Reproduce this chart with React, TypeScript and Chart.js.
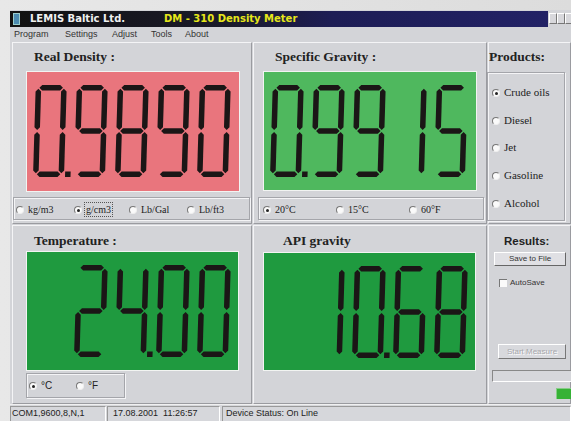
import React, { useEffect, useRef } from "react";
import { Chart, registerables } from "chart.js";
Chart.register(...registerables);

// ---- data ----
const readingTitles = ["Real Density :", "Specific Gravity :", "Temperature :", "API gravity"];
const readingValues = [0.989, 0.9915, 24.0, 10.68];
const readingDecimals = [4, 4, 2, 2];
const densityUnits = ["kg/m3", "g/cm3", "Lb/Gal", "Lb/ft3"];
const gravityRefs = ["20°C", "15°C", "60°F"];
const productList = ["Crude oils", "Diesel", "Jet", "Gasoline", "Alcohol"];
const tempUnits = ["°C", "°F"];
const menuItems = ["Program", "Settings", "Adjust", "Tools", "About"];
const statusItems = ["COM1,9600,8,N,1", "17.08.2001  11:26:57", "Device Status: On Line"];
const appName = "LEMIS Baltic Ltd.";
const appTitle = "DM - 310 Density Meter";

// ---- layout / style ----
const displayBoxes = [
  { left: 27, top: 72, width: 212, height: 119, bg: "#e9757d" },
  { left: 264, top: 72, width: 212, height: 118, bg: "#4fb85e" },
  { left: 27, top: 252, width: 211, height: 118, bg: "#1f9a3f" },
  { left: 264, top: 253, width: 211, height: 117, bg: "#1f9a3f" },
];
const titlePos = [
  { left: 34, top: 48 },
  { left: 275, top: 48 },
  { left: 34, top: 232 },
  { left: 283, top: 232 },
];
const menuX = [14, 65, 112, 151, 185];
const densityUnitX = [20, 78, 133, 191];
const gravityRefX = [267, 340, 413];
const productY = [93, 121, 148, 176, 204];
const tempUnitX = [33, 80];
const statusX = [12, 113, 226];

const SEGS: Record<string, string> = {
  "0": "abcdef",
  "1": "bc",
  "2": "abged",
  "3": "abgcd",
  "4": "fgbc",
  "5": "afgcd",
  "6": "afgedc",
  "7": "abc",
  "8": "abcdefg",
  "9": "abcdfg",
};

const sevenSegPlugin = {
  id: "sevenSeg",
  beforeDraw(chart: any, _a: any, opts: any) {
    const { ctx, chartArea } = chart;
    ctx.save();
    ctx.fillStyle = opts.bg;
    ctx.fillRect(chartArea.left, chartArea.top, chartArea.right - chartArea.left, chartArea.bottom - chartArea.top);
    ctx.restore();
  },
  afterDatasetsDraw(chart: any, _a: any, opts: any) {
    const { ctx } = chart;
    const xs = chart.scales.x;
    const ys = chart.scales.y;
    const text: string = Number(opts.value).toFixed(opts.decimals);
    const digits: { ch: string; dot: boolean }[] = [];
    for (const c of text) {
      if (c === ".") {
        if (digits.length) digits[digits.length - 1].dot = true;
      } else digits.push({ ch: c, dot: false });
    }
    const offset = opts.slots - digits.length;
    const t = opts.thick;
    const g = 1;
    const skew = opts.skew;
    ctx.save();
    ctx.fillStyle = opts.fg;
    digits.forEach((d, i) => {
      const k = i + offset;
      const x0 = xs.getPixelForValue(k);
      const x1 = xs.getPixelForValue(k + opts.digitWidth);
      const yT = ys.getPixelForValue(opts.top);
      const yB = ys.getPixelForValue(opts.bottom);
      const sk = (x: number, y: number): [number, number] => [x + skew * (yB - y), y];
      const poly = (pts: [number, number][]) => {
        ctx.beginPath();
        pts.forEach((p, j) => {
          const q = sk(p[0], p[1]);
          if (j === 0) ctx.moveTo(q[0], q[1]);
          else ctx.lineTo(q[0], q[1]);
        });
        ctx.closePath();
        ctx.fill();
      };
      const h = t / 2;
      const horiz = (xa: number, xb: number, y: number) =>
        poly([
          [xa + g, y],
          [xa + g + h, y - h],
          [xb - g - h, y - h],
          [xb - g, y],
          [xb - g - h, y + h],
          [xa + g + h, y + h],
        ]);
      const vert = (x: number, ya: number, yb: number) =>
        poly([
          [x, ya + g],
          [x + h, ya + g + h],
          [x + h, yb - g - h],
          [x, yb - g],
          [x - h, yb - g - h],
          [x - h, ya + g + h],
        ]);
      const lx = x0 + h;
      const rx = x1 - h;
      const ty = yT + h;
      const by = yB - h;
      const my = (yT + yB) / 2;
      const segs = SEGS[d.ch] || "";
      if (segs.includes("a")) horiz(lx, rx, ty);
      if (segs.includes("b")) vert(rx, ty, my);
      if (segs.includes("c")) vert(rx, my, by);
      if (segs.includes("d")) horiz(lx, rx, by);
      if (segs.includes("e")) vert(lx, my, by);
      if (segs.includes("f")) vert(lx, ty, my);
      if (segs.includes("g")) horiz(lx, rx, my);
      if (d.dot) {
        const dx = x1 + 1;
        poly([
          [dx, yB - t],
          [dx + t, yB - t],
          [dx + t, yB],
          [dx, yB],
        ]);
      }
    });
    ctx.restore();
  },
};

function Display({ index }: { index: number }) {
  const ref = useRef<HTMLCanvasElement | null>(null);
  const box = displayBoxes[index];
  useEffect(() => {
    if (!ref.current) return;
    const pitch = 41;
    const chart = new Chart(ref.current, {
      type: "scatter",
      data: { datasets: [{ label: readingTitles[index], data: [] }] },
      options: {
        animation: false,
        responsive: false,
        maintainAspectRatio: false,
        layout: { padding: 0 },
        events: [],
        plugins: {
          legend: { display: false },
          tooltip: { enabled: false },
          // @ts-ignore
          sevenSeg: {
            value: readingValues[index],
            decimals: readingDecimals[index],
            slots: 5,
            digitWidth: 31 / pitch,
            top: 1 - 13 / box.height,
            bottom: 1 - 105 / box.height,
            thick: 5.5,
            skew: 0.03,
            bg: box.bg,
            fg: "#1b1616",
          },
        },
        scales: {
          x: { type: "linear", display: false, min: -6 / pitch, max: (box.width - 6) / pitch },
          y: { type: "linear", display: false, min: 0, max: 1 },
        },
      },
      plugins: [sevenSegPlugin as any],
    });
    return () => chart.destroy();
  }, [index]);
  return (
    <div
      style={{
        position: "absolute",
        left: box.left - 1,
        top: box.top - 1,
        width: box.width,
        height: box.height,
        border: "1px solid #f2f4f2",
      }}
    >
      <canvas ref={ref} width={box.width} height={box.height} style={{ display: "block" }} />
    </div>
  );
}

const abs = (l: number, t: number, w?: number, h?: number): React.CSSProperties => ({
  position: "absolute",
  left: l,
  top: t,
  width: w,
  height: h,
  boxSizing: "border-box",
});

function Panel({ l, t, r, b }: { l: number; t: number; r: number; b: number }) {
  return (
    <div
      style={{
        ...abs(l, t, r - l, b - t),
        borderTop: "1px solid #f4f4f6",
        borderLeft: "1px solid #f4f4f6",
        borderRight: "1px solid #9a9ba0",
        borderBottom: "1px solid #9a9ba0",
        background: "#d3d4d8",
      }}
    />
  );
}

function Group({ l, t, r, b }: { l: number; t: number; r: number; b: number }) {
  return (
    <div
      style={{
        ...abs(l, t, r - l, b - t),
        border: "1px solid #a4a5aa",
        boxShadow: "inset 1px 1px 0 #f4f4f6, 1px 1px 0 #f4f4f6",
      }}
    />
  );
}

function Radio({ x, y, on, label, font, focus }: any) {
  return (
    <>
      <div
        style={{
          ...abs(x - 4, y - 4, 8, 8),
          borderRadius: "50%",
          background: "#fafafa",
          borderTop: "1px solid #777",
          borderLeft: "1px solid #777",
          borderRight: "1px solid #eee",
          borderBottom: "1px solid #eee",
        }}
      >
        {on ? <div style={{ ...abs(1.5, 1.5, 3, 3), borderRadius: "50%", background: "#222" }} /> : null}
      </div>
      <div
        style={{
          ...abs(x + 7, y - 7),
          font,
          color: "#222",
          whiteSpace: "nowrap",
          lineHeight: "13px",
          padding: "0 1px",
          outline: focus ? "1px dotted #555" : undefined,
        }}
      >
        {label}
      </div>
    </>
  );
}

export default function App() {
  const serif = '10px "Liberation Serif", serif';
  const titleFont = 'bold 13.5px "Liberation Serif", serif';
  return (
    <div
      style={{
        position: "fixed",
        left: 0,
        top: 0,
        width: 571,
        height: 421,
        overflow: "hidden",
        background: "linear-gradient(to right, #e8e8e8, #dcdcdc)",
      }}
    >
      {/* window */}
      <div style={{ ...abs(10, 10, 561, 411), background: "#d3d4d8" }} />
      {/* title bar */}
      <div
        style={{
          ...abs(10, 11, 538, 16),
          background: "linear-gradient(to right, #111111 0%, #1a1a2a 40%, #1d1d55 60%, #222266 100%)",
        }}
      />
      <div style={{ ...abs(13, 13, 7, 12), background: "#4a8ab0", border: "1px solid #9cc" }} />
      <div
        style={{
          ...abs(30, 12),
          font: 'bold 10px "DejaVu Sans", sans-serif',
          color: "#f0f0f0",
          lineHeight: "14px",
          whiteSpace: "nowrap",
        }}
      >
        {appName}
      </div>
      <div
        style={{
          ...abs(164, 12),
          font: 'bold 10px "DejaVu Sans", sans-serif',
          color: "#e6e61a",
          lineHeight: "14px",
          whiteSpace: "nowrap",
        }}
      >
        {appTitle}
      </div>
      {[549, 557, 565].map((x, i) => (
        <div
          key={i}
          style={{
            ...abs(x, 13, 8, 11),
            background: "#d8d8dc",
            borderTop: "1px solid #fff",
            borderLeft: "1px solid #fff",
            borderRight: "1px solid #777",
            borderBottom: "1px solid #777",
          }}
        />
      ))}
      {/* menu */}
      {menuItems.map((m, i) => (
        <div
          key={m}
          style={{
            ...abs(menuX[i], 28),
            font: '9px "Liberation Sans", sans-serif',
            color: "#333",
            lineHeight: "12px",
            whiteSpace: "nowrap",
          }}
        >
          {m}
        </div>
      ))}

      {/* panels */}
      <Panel l={12} t={42} r={252} b={224} />
      <Panel l={253} t={42} r={487} b={224} />
      <Panel l={488} t={42} r={571} b={224} />
      <Panel l={12} t={225} r={252} b={404} />
      <Panel l={253} t={225} r={487} b={404} />
      <Panel l={488} t={225} r={571} b={404} />

      {/* titles */}
      {readingTitles.map((tt, i) => (
        <div
          key={tt}
          style={{
            ...abs(titlePos[i].left, titlePos[i].top),
            font: titleFont,
            color: "#222",
            lineHeight: "18px",
            whiteSpace: "nowrap",
          }}
        >
          {tt}
        </div>
      ))}
      <div style={{ ...abs(489, 48), font: titleFont, color: "#222", lineHeight: "18px", whiteSpace: "nowrap" }}>
        Products:
      </div>

      {/* displays */}
      {readingTitles.map((_, i) => (
        <Display key={i} index={i} />
      ))}

      {/* density units */}
      <Group l={13} t={197} r={250} b={220} />
      {densityUnits.map((u, i) => (
        <Radio key={u} x={densityUnitX[i]} y={210} on={i === 1} focus={i === 1} label={u} font={serif} />
      ))}
      {/* gravity references */}
      <Group l={258} t={197} r={484} b={220} />
      {gravityRefs.map((u, i) => (
        <Radio key={u} x={gravityRefX[i]} y={210} on={i === 0} label={u} font={serif} />
      ))}
      {/* products */}
      <Group l={487} t={72} r={565} b={221} />
      {productList.map((p, i) => (
        <Radio key={p} x={496} y={productY[i]} on={i === 0} label={p} font={'11px "Liberation Serif", serif'} />
      ))}
      {/* temp units */}
      <Group l={26} t={373} r={125} b={398} />
      {tempUnits.map((u, i) => (
        <Radio key={u} x={tempUnitX[i]} y={386} on={i === 0} label={u} font={'10px "Liberation Sans", sans-serif'} />
      ))}

      {/* results */}
      <div
        style={{
          ...abs(504, 233),
          font: 'bold 11.5px "Liberation Sans", sans-serif',
          color: "#222",
          lineHeight: "16px",
          whiteSpace: "nowrap",
        }}
      >
        Results:
      </div>
      <div
        style={{
          ...abs(494, 252, 72, 14),
          background: "#e0e0e4",
          borderTop: "1px solid #fff",
          borderLeft: "1px solid #fff",
          borderRight: "1px solid #666",
          borderBottom: "1px solid #666",
          font: '8px "Liberation Sans", sans-serif',
          color: "#333",
          textAlign: "center",
          lineHeight: "12px",
        }}
      >
        Save to File
      </div>
      <div
        style={{
          ...abs(499, 279, 8, 8),
          background: "#fafafa",
          borderTop: "1px solid #777",
          borderLeft: "1px solid #777",
        }}
      />
      <div
        style={{
          ...abs(510, 277),
          font: '8px "Liberation Sans", sans-serif',
          color: "#333",
          lineHeight: "12px",
          whiteSpace: "nowrap",
        }}
      >
        AutoSave
      </div>
      <div
        style={{
          ...abs(498, 344, 68, 15),
          background: "#d8d9dd",
          borderTop: "1px solid #fff",
          borderLeft: "1px solid #fff",
          borderRight: "1px solid #777",
          borderBottom: "1px solid #777",
          font: '8px "Liberation Sans", sans-serif',
          color: "#a8a8ac",
          textShadow: "1px 1px 0 #fff",
          textAlign: "center",
          lineHeight: "13px",
          whiteSpace: "nowrap",
        }}
      >
        Start Measure
      </div>
      <div
        style={{
          ...abs(492, 370, 79, 12),
          borderTop: "1px solid #888",
          borderLeft: "1px solid #888",
          borderBottom: "1px solid #fff",
          background: "#d6d7db",
        }}
      />
      <div style={{ ...abs(556, 388, 15, 11), background: "#36b236", borderTop: "1px solid #8c8", borderLeft: "1px solid #8c8" }} />

      {/* status bar */}
      <div style={{ ...abs(10, 404, 561, 17), background: "#d6d7db", borderTop: "1px solid #f0f0f0" }} />
      {[
        [10, 96],
        [107, 113],
        [222, 349],
      ].map(([l, w], i) => (
        <div
          key={i}
          style={{
            ...abs(l, 406, w, 15),
            borderTop: "1px solid #999",
            borderLeft: "1px solid #999",
            borderRight: "1px solid #fff",
          }}
        />
      ))}
      {statusItems.map((s, i) => (
        <div
          key={s}
          style={{
            ...abs(statusX[i], 407),
            font: '9px "Liberation Sans", sans-serif',
            color: "#222",
            lineHeight: "13px",
            whiteSpace: "pre",
          }}
        >
          {s}
        </div>
      ))}
    </div>
  );
}
